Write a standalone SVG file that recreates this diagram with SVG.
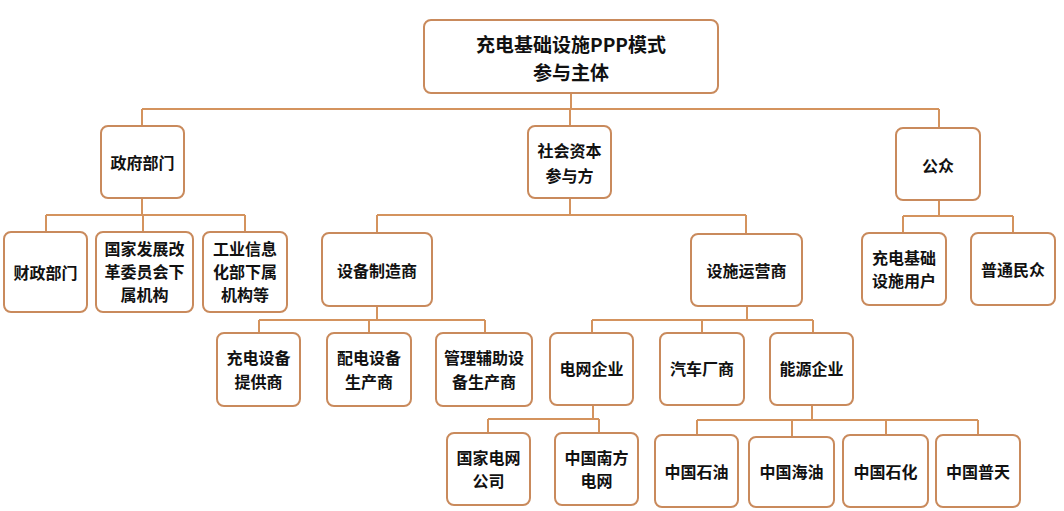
<svg xmlns="http://www.w3.org/2000/svg" width="1064" height="511" viewBox="0 0 1064 511">
<style>
.box{fill:#ffffff;stroke:#C98A5C;stroke-width:2}
.t{font-family:"Noto Sans CJK SC","Noto Sans",sans-serif;font-weight:bold;font-size:16px;fill:#111111;text-anchor:middle;dominant-baseline:central}
.big{font-size:19px}
.c{fill:none;stroke:#D4935E;stroke-width:2}
</style>
<rect x="0" y="0" width="1064" height="511" fill="#ffffff"/>
<g id="connectors">
<path class="c" d="M571,93V109M142,109H939M142,109V126M570,109V126M939,109V128"/>
<path class="c" d="M142,198V215M46,215H245M46,215V232M143,215V232M245,215V232"/>
<path class="c" d="M570,198V215M377,215H746M377,215V233M746,215V234"/>
<path class="c" d="M377,306V320M259,320H485M259,320V333M369,320V333M485,320V333"/>
<path class="c" d="M747,306V320M592,320H813M592,320V333M702,320V333M813,320V333"/>
<path class="c" d="M593,405V419M488,419H599M488,419V433M599,419V433"/>
<path class="c" d="M812,405V420M697,420H978M697,420V435M792,420V437M886,420V435M978,420V435"/>
<path class="c" d="M939,200V216M903,216H1013M903,216V233M1013,216V233"/>
</g>
<g id="root"><rect class="box" x="424" y="20" width="294" height="73" rx="7"/><text class="t big" x="571" y="43">充电基础设施PPP模式</text><text class="t big" x="571" y="71">参与主体</text></g>
<g id="gov"><rect class="box" x="101" y="126" width="83" height="72" rx="7"/><text class="t" x="142.5" y="162">政府部门</text></g>
<g id="social"><rect class="box" x="528" y="126" width="83" height="72" rx="7"/><text class="t" x="569.5" y="150">社会资本</text><text class="t" x="569.5" y="175">参与方</text></g>
<g id="public"><rect class="box" x="896" y="128" width="84" height="72" rx="7"/><text class="t" x="938" y="165">公众</text></g>
<g id="finance"><rect class="box" x="4" y="232" width="83" height="80" rx="7"/><text class="t" x="45.5" y="272">财政部门</text></g>
<g id="ndrc"><rect class="box" x="96" y="232" width="97" height="80" rx="7"/><text class="t" x="144.5" y="248">国家发展改</text><text class="t" x="144.5" y="271">革委员会下</text><text class="t" x="144.5" y="294">属机构</text></g>
<g id="miit"><rect class="box" x="203" y="232" width="84" height="80" rx="7"/><text class="t" x="245" y="248">工业信息</text><text class="t" x="245" y="271">化部下属</text><text class="t" x="245" y="294">机构等</text></g>
<g id="maker"><rect class="box" x="322" y="233" width="110" height="73" rx="7"/><text class="t" x="377" y="270">设备制造商</text></g>
<g id="operator"><rect class="box" x="691" y="234" width="111" height="72" rx="7"/><text class="t" x="746.5" y="270">设施运营商</text></g>
<g id="user"><rect class="box" x="862" y="233" width="84" height="72" rx="7"/><text class="t" x="904" y="257">充电基础</text><text class="t" x="904" y="280">设施用户</text></g>
<g id="people"><rect class="box" x="971" y="233" width="84" height="72" rx="7"/><text class="t" x="1013" y="269">普通民众</text></g>
<g id="charger"><rect class="box" x="217" y="333" width="83" height="73" rx="7"/><text class="t" x="258.5" y="357">充电设备</text><text class="t" x="258.5" y="381">提供商</text></g>
<g id="dist"><rect class="box" x="327" y="333" width="84" height="73" rx="7"/><text class="t" x="369" y="357">配电设备</text><text class="t" x="369" y="381">生产商</text></g>
<g id="aux"><rect class="box" x="436" y="333" width="96" height="73" rx="7"/><text class="t" x="484" y="357">管理辅助设</text><text class="t" x="484" y="381">备生产商</text></g>
<g id="grid"><rect class="box" x="550" y="333" width="83" height="72" rx="7"/><text class="t" x="591.5" y="368">电网企业</text></g>
<g id="auto"><rect class="box" x="660" y="333" width="84" height="72" rx="7"/><text class="t" x="702" y="368">汽车厂商</text></g>
<g id="energy"><rect class="box" x="770" y="333" width="83" height="72" rx="7"/><text class="t" x="811.5" y="368">能源企业</text></g>
<g id="sgcc"><rect class="box" x="447" y="433" width="83" height="72" rx="7"/><text class="t" x="488.5" y="457">国家电网</text><text class="t" x="488.5" y="480">公司</text></g>
<g id="csg"><rect class="box" x="555" y="433" width="83" height="72" rx="7"/><text class="t" x="596.5" y="457">中国南方</text><text class="t" x="596.5" y="480">电网</text></g>
<g id="cnpc"><rect class="box" x="655" y="435" width="83" height="72" rx="7"/><text class="t" x="696.5" y="471">中国石油</text></g>
<g id="cnooc"><rect class="box" x="749" y="437" width="85" height="70" rx="7"/><text class="t" x="791.5" y="471">中国海油</text></g>
<g id="sinopec"><rect class="box" x="843" y="435" width="85" height="72" rx="7"/><text class="t" x="885.5" y="471">中国石化</text></g>
<g id="potevio"><rect class="box" x="936" y="435" width="84" height="72" rx="7"/><text class="t" x="978" y="471">中国普天</text></g>
</svg>
